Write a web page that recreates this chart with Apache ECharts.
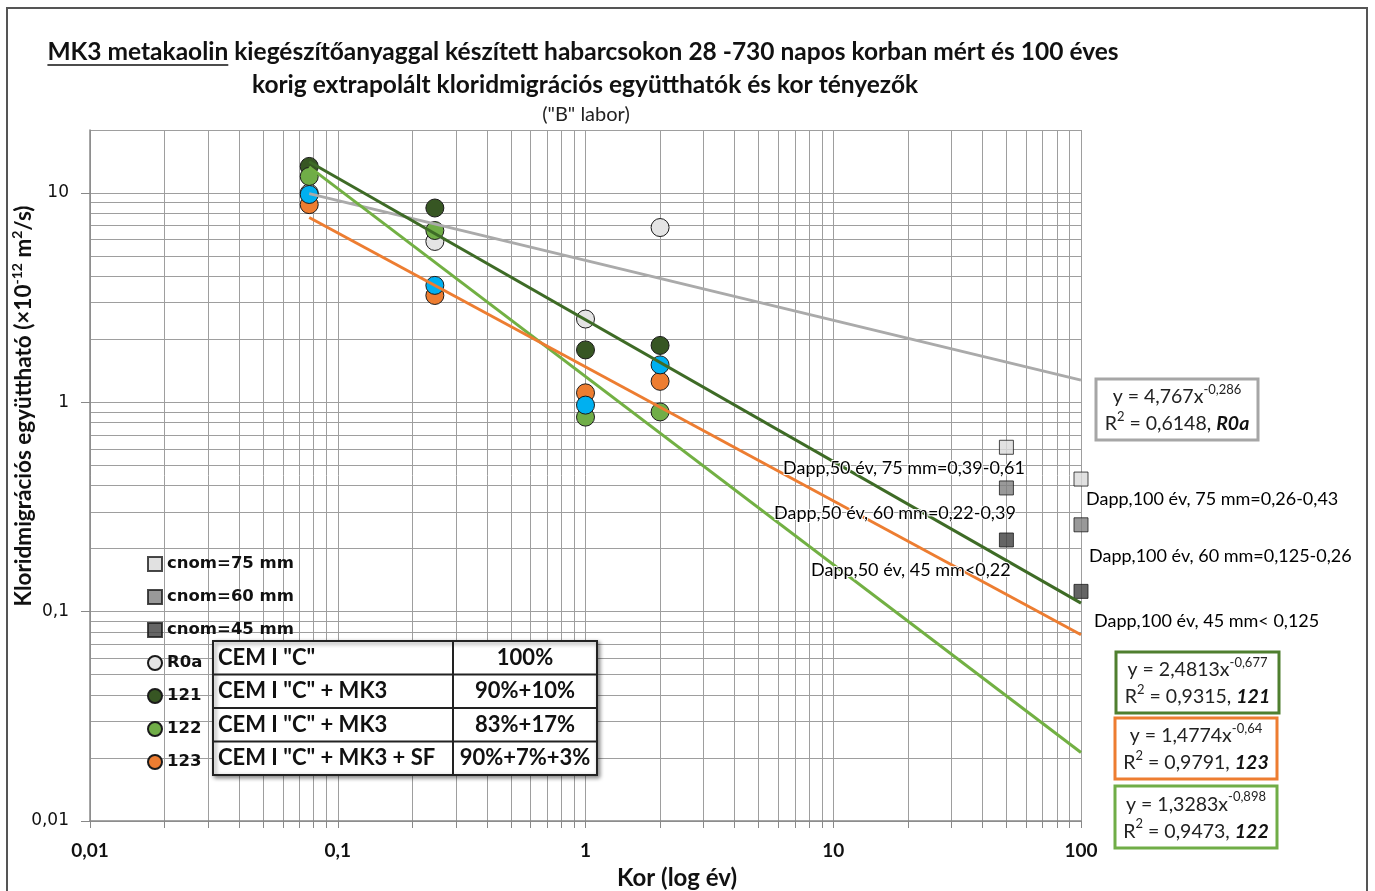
<!DOCTYPE html>
<html>
<head>
<meta charset="utf-8">
<script src="https://cdn.jsdelivr.net/npm/echarts@6/dist/echarts.min.js"></script>
<style>
  html, body { margin: 0; padding: 0; background: #fff; }
  #chart { width: 1375px; height: 891px; }
</style>
</head>
<body>
<div id="chart"></div>
<script>
// Measured ages (days) and chloride migration coefficients (×10^-12 m²/s)
const ageDays = [28, 90, 365, 730];
const r0aValues = [10.0, 5.87, 2.50, 6.84];
const mix121Values = [13.4, 8.48, 1.78, 1.87];
const mix122Values = [12.0, 6.62, 0.85, 0.90];
const mix123Values = [8.8, 3.24, 1.11, 1.26];
const blueValues = [9.84, 3.62, 0.97, 1.51];

// Required Dapp limits at 50 and 100 years
const designAges = [50, 100];
const cnom75Values = [0.61, 0.43];
const cnom60Values = [0.39, 0.26];
const cnom45Values = [0.22, 0.125];

// Power-law trend lines y = a·x^b (R0a, 121, 122, 123)
const fitNames = ['R0a', '121', '122', '123'];
const fitA = [4.767, 2.4813, 1.3283, 1.4774];
const fitB = [-0.286, -0.677, -0.898, -0.64];
const fitR2 = [0.6148, 0.9315, 0.9473, 0.9791];
const fitEndAge = 100;

// Axis ticks
const xLabelValues = [0.01, 0.1, 1, 10, 100];
const yLabelValues = [0.01, 0.1, 1, 10];
const yTopValue = 20;

// Mix table rows
const tableRows = [
  ['CEM I "C"', '100%'],
  ['CEM I "C" + MK3', '90%+10%'],
  ['CEM I "C" + MK3', '83%+17%'],
  ['CEM I "C" + MK3 + SF', '90%+7%+3%']
];

// Dapp annotations
const dappLabels = [
  'Dapp,50 év, 75 mm=0,39-0,61',
  'Dapp,50 év, 60 mm=0,22-0,39',
  'Dapp,50 év, 45 mm<0,22',
  'Dapp,100 év, 75 mm=0,26-0,43',
  'Dapp,100 év, 60 mm=0,125-0,26',
  'Dapp,100 év, 45 mm< 0,125'
];

const COLORS = {
  r0a: '#e4e4e4', r0aLine: '#aaaaaa',
  c121: '#375623', c121Line: '#3e6b26',
  c122: '#70ad47', c122Line: '#72b043',
  c123: '#ed7d31',
  blue: '#00b0f0',
  sq75: '#d9d9d9', sq60: '#808080', sq45: '#3f3f3f',
  grid: '#9e9e9e'
};

const CAL = 'Lato, "Open Sans", sans-serif';
const WIDE = '"DejaVu Sans", Verdana, sans-serif';

function comma(v) { return String(v).replace('.', ','); }

// all 1..9 × 10^k gridline positions within a range
function logGrid(minExp, maxVal) {
  const out = [];
  for (let k = minExp; ; k++) {
    for (let m = 1; m <= 9; m++) {
      const v = +(m * Math.pow(10, k)).toPrecision(6);
      if (v > maxVal + 1e-9) return out;
      out.push(v);
    }
  }
}
const xGridValues = logGrid(-2, 100);
const yGridValues = logGrid(-2, yTopValue);

const toPts = (vals) => ageDays.map((d, i) => [d / 365, vals[i]]);
const toDesign = (vals) => designAges.map((a, i) => [a, vals[i]]);

function circleSeries(name, vals, color, z) {
  return {
    name, type: 'scatter', data: toPts(vals), symbol: 'circle', symbolSize: 18, z,
    itemStyle: { color, borderColor: '#1b1b1b', borderWidth: 1, opacity: 1 },
    emphasis: { disabled: true }, clip: false
  };
}
function squareSeries(name, vals, color) {
  return {
    name, type: 'scatter', data: toDesign(vals), symbol: 'rect', symbolSize: 14, z: 4,
    itemStyle: { color, borderColor: '#1b1b1b', borderWidth: 1 },
    emphasis: { disabled: true }, clip: false
  };
}
const fitColors = [COLORS.r0aLine, COLORS.c121Line, COLORS.c122Line, COLORS.c123];
const x0 = ageDays[0] / 365;
const fitSeries = fitNames.map((n, i) => ({
  name: n + ' trend', type: 'line', silent: true, showSymbol: false, z: 6,
  data: [[x0, fitA[i] * Math.pow(x0, fitB[i])], [fitEndAge, fitA[i] * Math.pow(fitEndAge, fitB[i])]],
  lineStyle: { color: fitColors[i], width: 3 },
  emphasis: { disabled: true }
}));

// Title with underlined first words
const t1a = 'MK3 metakaolin';
const t1b = ' kiegészítőanyaggal készített habarcsokon 28 -730 napos korban mért és 100 éves';
const titleFont = 'bold 24.5px ' + CAL;
const mctx = document.createElement('canvas').getContext('2d');
mctx.font = titleFont;
const wA = mctx.measureText(t1a).width;
const wB = mctx.measureText(t1b).width;
const titleCx = 583;
const t1Left = titleCx - (wA + wB) / 2;

const graphics = [
  { type: 'rect', shape: { x: 7, y: 8, width: 1360, height: 900 }, style: { fill: 'none', stroke: '#555', lineWidth: 2 }, silent: true },
  { type: 'text', x: t1Left, y: 52, style: { text: t1a + t1b, font: titleFont, fill: '#111', align: 'left', verticalAlign: 'middle' } },
  { type: 'line', shape: { x1: t1Left, y1: 65, x2: t1Left + wA, y2: 65 }, style: { stroke: '#111', lineWidth: 1.5 } },
  { type: 'text', x: 585, y: 85, style: { text: 'korig extrapolált kloridmigrációs együtthatók és kor tényezők', font: titleFont, fill: '#111', align: 'center', verticalAlign: 'middle' } },
  { type: 'text', x: 586, y: 115, style: { text: '("B" labor)', font: '20px ' + CAL, fill: '#222', align: 'center', verticalAlign: 'middle' } },
  { type: 'text', x: 677, y: 878, style: { text: 'Kor (log év)', font: 'bold 24px ' + CAL, fill: '#111', align: 'center', verticalAlign: 'middle' } },
  {
    type: 'text', x: 24, y: 406, rotation: Math.PI / 2,
    style: {
      text: '{n|Kloridmigrációs együttható (×10}{s|-12}{n| m}{s|2}{n|/s)}',
      align: 'center', verticalAlign: 'middle',
      rich: {
        n: { font: 'bold 22.5px ' + CAL, fill: '#111', lineHeight: 28 },
        s: { font: 'bold 14px ' + CAL, fill: '#111', lineHeight: 15, padding: [0, 0, 13, 0] }
      }
    }
  }
];

// mix table
const tb = { x: 213, y: 641, w: 384, h: 134, col: 453 };
const rowH = tb.h / tableRows.length;
graphics.push({ type: 'rect', shape: { x: tb.x, y: tb.y, width: tb.w, height: tb.h }, style: { fill: '#fff', stroke: '#222', lineWidth: 2, shadowBlur: 4, shadowOffsetX: 2, shadowOffsetY: 2, shadowColor: 'rgba(0,0,0,0.45)' }, z: 10 });
graphics.push({ type: 'line', shape: { x1: tb.col, y1: tb.y, x2: tb.col, y2: tb.y + tb.h }, style: { stroke: '#222', lineWidth: 2 }, z: 11 });
tableRows.forEach((r, i) => {
  if (i > 0) graphics.push({ type: 'line', shape: { x1: tb.x, y1: tb.y + i * rowH, x2: tb.x + tb.w, y2: tb.y + i * rowH }, style: { stroke: '#222', lineWidth: 2 }, z: 11 });
  const cy = tb.y + (i + 0.5) * rowH;
  graphics.push({ type: 'text', x: tb.x + 5, y: cy, z: 12, style: { text: r[0], font: 'bold 22px ' + CAL, fill: '#111', align: 'left', verticalAlign: 'middle' } });
  graphics.push({ type: 'text', x: (tb.col + tb.x + tb.w) / 2, y: cy, z: 12, style: { text: r[1], font: 'bold 22px ' + CAL, fill: '#111', align: 'center', verticalAlign: 'middle' } });
});

// equation boxes
const boxLayout = {
  'R0a': { x: 1096, y: 379, w: 162, h: 61, stroke: '#a6a6a6' },
  '121': { x: 1116, y: 652, w: 163, h: 61, stroke: '#4f7f2f' },
  '123': { x: 1115, y: 718, w: 162, h: 61, stroke: '#ed7d31' },
  '122': { x: 1115, y: 786, w: 162, h: 62, stroke: '#70ad47' }
};
fitNames.forEach((n, i) => {
  const b = boxLayout[n];
  graphics.push({ type: 'rect', shape: { x: b.x, y: b.y, width: b.w, height: b.h }, style: { fill: '#fff', stroke: b.stroke, lineWidth: 3 }, z: 10 });
  graphics.push({
    type: 'text', x: b.x + b.w / 2, y: b.y + b.h / 2 + 1, z: 12,
    style: {
      text: '{t|y = ' + comma(fitA[i]) + 'x}{s|' + comma(fitB[i]) + '}\n{t|R}{s|2}{t| = ' + comma(fitR2[i]) + ', }{b|' + n + '}',
      align: 'center', verticalAlign: 'middle',
      rich: {
        t: { font: '19.5px ' + CAL, fill: '#222', lineHeight: 27 },
        s: { font: '13px ' + CAL, fill: '#222', lineHeight: 14, padding: [0, 0, 15, 0] },
        b: { font: 'italic bold 19.5px ' + CAL, fill: '#111', lineHeight: 27 }
      }
    }
  });
});

// Dapp texts
const dappPos = [[783, 468], [774, 513], [811, 570], [1086, 499], [1089, 556], [1094, 621]];
dappLabels.forEach((t, i) => {
  graphics.push({ type: 'text', x: dappPos[i][0], y: dappPos[i][1], z: 12, style: { text: t, font: '18px ' + CAL, fill: '#000', stroke: '#fff', lineWidth: 2, align: 'left', verticalAlign: 'middle' } });
});

const chart = echarts.init(document.getElementById('chart'), null, { renderer: 'canvas' });
chart.setOption({
  backgroundColor: '#fff',
  animation: false,
  grid: { left: 90, right: 294, top: 130, bottom: 70, containLabel: false },
  legend: {
    data: ['cnom=75 mm', 'cnom=60 mm', 'cnom=45 mm', 'R0a', '121', '122', '123'],
    orient: 'vertical', left: 142, top: 549, itemWidth: 14, itemHeight: 14, itemGap: 13,
    selectedMode: false,
    textStyle: { fontFamily: WIDE, fontWeight: 'bold', fontSize: 16.5, color: '#111', lineHeight: 20 }
  },
  xAxis: {
    type: 'log', logBase: 10, min: 0.01, max: 100,
    axisLine: { show: true, lineStyle: { color: '#888', width: 1.5 } },
    axisTick: { show: true, customValues: xGridValues, length: 7, lineStyle: { color: '#888' } },
    axisLabel: { customValues: xLabelValues, formatter: (v) => comma(v), fontFamily: CAL, fontWeight: 'bold', fontSize: 19, color: '#111', margin: 20 },
    splitLine: { show: true, lineStyle: { color: COLORS.grid, width: 1 } }
  },
  yAxis: [
    {
      type: 'log', logBase: 10, min: 0.01, max: yTopValue,
      axisLine: { show: true, lineStyle: { color: '#888', width: 1.5 } },
      axisTick: { show: false, customValues: yGridValues },
      axisLabel: { customValues: yLabelValues, formatter: (v) => comma(v), fontFamily: WIDE, fontSize: 17, color: '#111', margin: 21 },
      splitLine: { show: true, lineStyle: { color: COLORS.grid, width: 1 } }
    },
    {
      type: 'log', logBase: 10, min: 0.01, max: yTopValue, position: 'left',
      axisLine: { show: false },
      axisTick: { show: true, customValues: yLabelValues, length: 9, lineStyle: { color: '#888' } },
      axisLabel: { show: false },
      splitLine: { show: false }
    }
  ],
  series: [
    circleSeries('R0a', r0aValues, COLORS.r0a, 3),
    circleSeries('121', mix121Values, COLORS.c121, 3),
    circleSeries('122', mix122Values, COLORS.c122, 3),
    circleSeries('123', mix123Values, COLORS.c123, 3),
    circleSeries('kék', blueValues, COLORS.blue, 3),
    squareSeries('cnom=75 mm', cnom75Values, COLORS.sq75),
    squareSeries('cnom=60 mm', cnom60Values, COLORS.sq60),
    squareSeries('cnom=45 mm', cnom45Values, COLORS.sq45),
    ...fitSeries
  ],
  graphic: graphics
});
</script>
</body>
</html>
